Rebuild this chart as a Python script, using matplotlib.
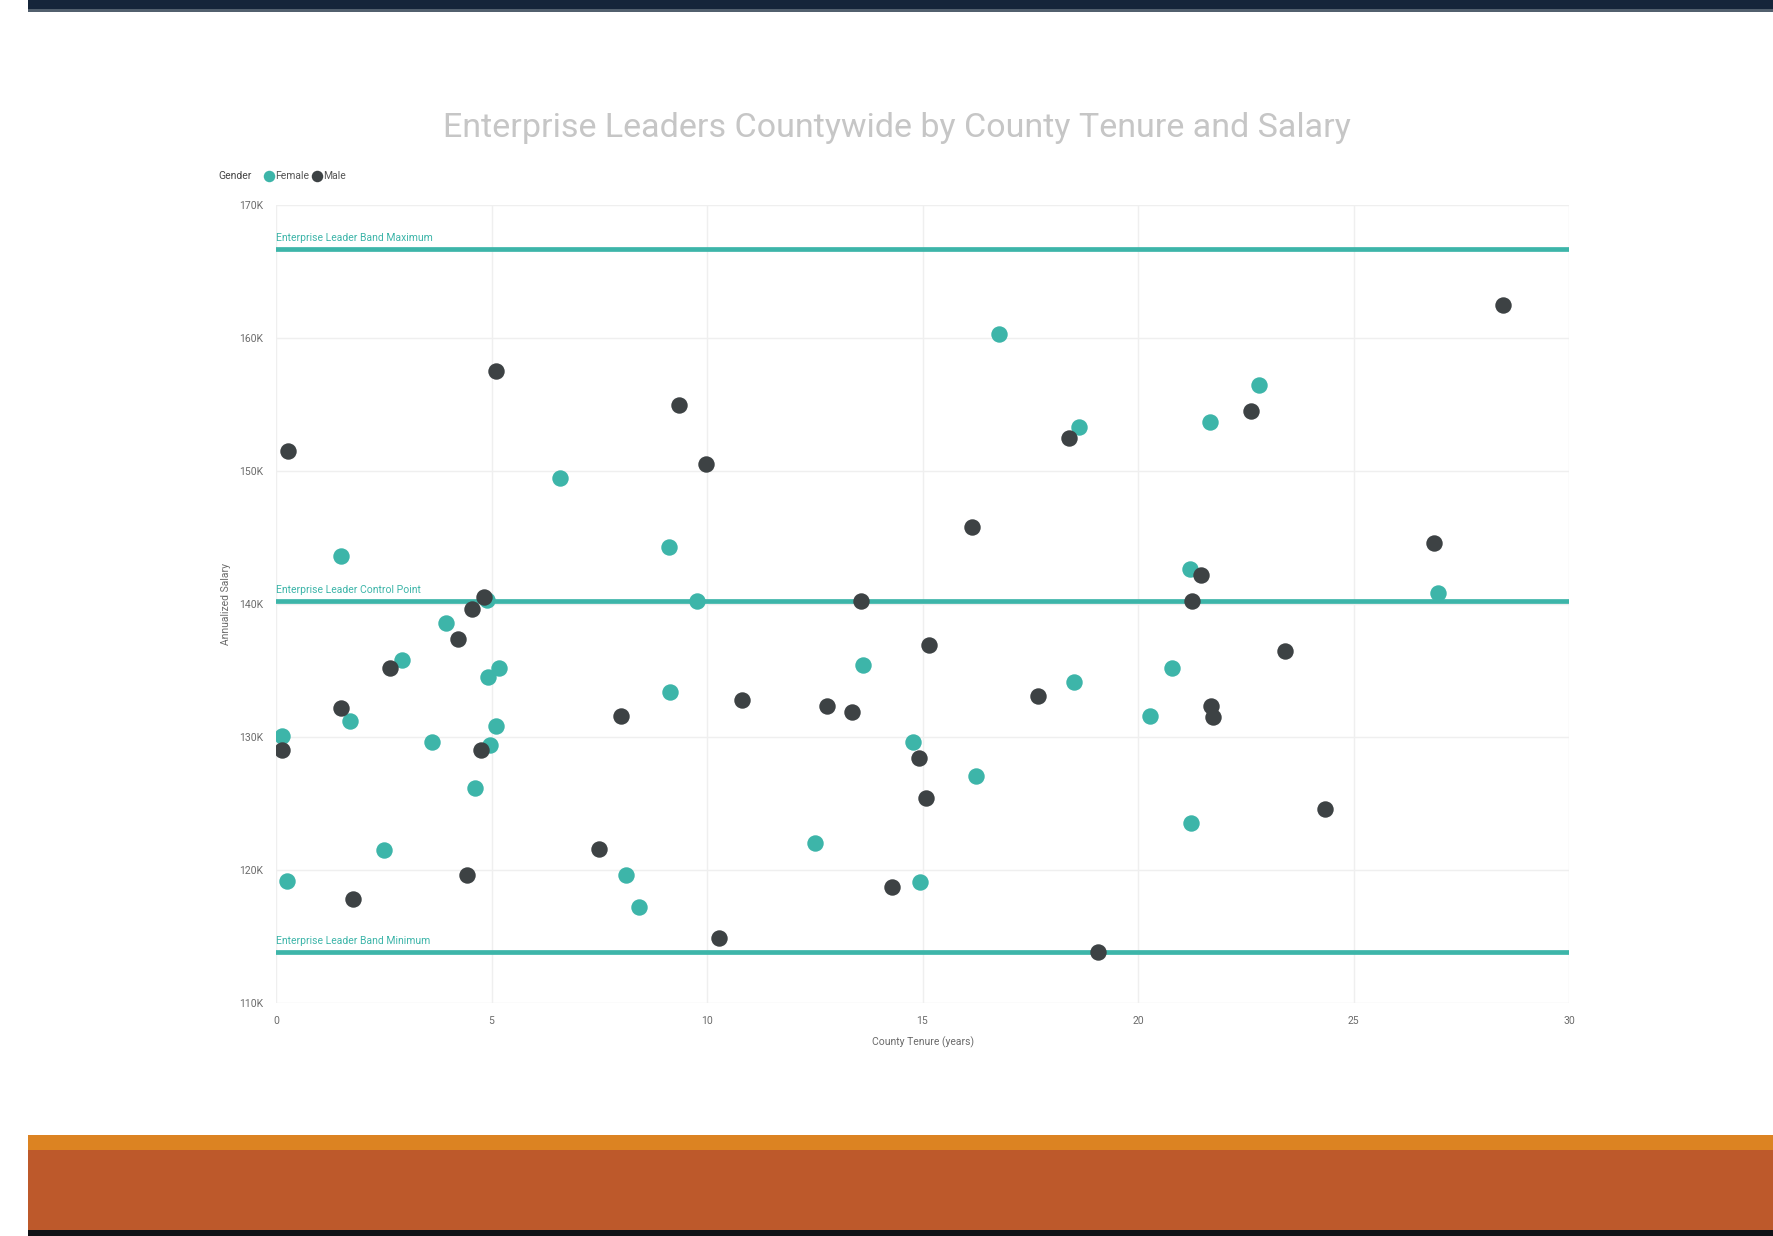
import matplotlib
matplotlib.use("Agg")
import matplotlib.pyplot as plt
from matplotlib.patches import Rectangle

# ---------------- data ----------------
female_tenure = [0.13, 0.26, 1.50, 1.71, 2.50, 2.92, 3.62, 3.94, 4.62, 4.89, 4.91, 5.17,
                 5.10, 4.96, 6.59, 8.12, 8.43, 9.11, 9.14, 9.77, 12.50, 13.61, 14.79,
                 14.95, 16.23, 16.78, 18.52, 18.62, 20.28, 20.78, 21.20, 21.22, 21.67,
                 22.80, 26.95]
female_salary = [130.1, 119.2, 143.6, 131.2, 121.5, 135.8, 129.6, 138.6, 126.2, 140.3,
                 134.5, 135.2, 130.8, 129.4, 149.5, 119.6, 117.2, 144.3, 133.4, 140.2,
                 122.0, 135.4, 129.6, 119.1, 127.1, 160.3, 134.1, 153.3, 131.6, 135.2,
                 142.6, 123.5, 153.7, 156.5, 140.8]

male_tenure = [0.29, 0.13, 1.50, 1.79, 2.65, 4.23, 4.54, 4.83, 4.44, 4.75, 5.10, 7.49,
               8.01, 9.35, 9.98, 10.27, 10.82, 12.79, 13.37, 13.58, 14.29, 14.92, 15.08,
               15.16, 16.15, 17.68, 18.39, 19.07, 21.25, 21.46, 21.70, 21.75, 22.62,
               23.40, 24.35, 26.87, 28.47]
male_salary = [151.5, 129.0, 132.2, 117.8, 135.2, 137.4, 139.6, 140.5, 119.6, 129.0,
               157.5, 121.6, 131.6, 155.0, 150.5, 114.9, 132.8, 132.3, 131.9, 140.2,
               118.7, 128.45, 125.4, 136.9, 145.8, 133.1, 152.5, 113.8, 140.2, 142.2,
               132.3, 131.5, 154.5, 136.5, 124.6, 144.6, 162.5]

ref_labels = ["Enterprise Leader Band Maximum", "Enterprise Leader Control Point",
              "Enterprise Leader Band Minimum"]
ref_values = [166.7, 140.2, 113.8]

x_ticks = [0, 5, 10, 15, 20, 25, 30]
y_ticks = [110, 120, 130, 140, 150, 160, 170]
y_tick_labels = ["110K", "120K", "130K", "140K", "150K", "160K", "170K"]

title = "Enterprise Leaders Countywide by County Tenure and Salary"

TEAL = "#3db5a9"
DARK = "#3d4244"

# ---------------- figure ----------------
W, H = 1773, 1236
fig = plt.figure(figsize=(W / 100, H / 100), dpi=100)
fig.patch.set_facecolor("white")

def px_rect(x0, y0, x1, y1, color, z=0):
    fig.patches.append(Rectangle((x0 / W, 1 - y1 / H), (x1 - x0) / W, (y1 - y0) / H,
                                 transform=fig.transFigure, color=color, zorder=z, lw=0))

# top dark band
px_rect(28, 0, W, 9, "#15253a")
px_rect(28, 9, W, 12, "#52606e")
# bottom orange band
px_rect(28, 1135, W, 1150, "#dc8322")
px_rect(28, 1150, W, 1230, "#bd592b")
px_rect(28, 1230, W, H, "#101216")

left, right = 276 / W, 1569 / W
bottom, top = 1 - 1003 / H, 1 - 205 / H
ax = fig.add_axes([left, bottom, right - left, top - bottom])
ax.set_facecolor("white")

for xv in x_ticks:
    ax.axvline(xv, color="#efefef", lw=1, zorder=0)
for yv in y_ticks:
    ax.axhline(yv, color="#efefef", lw=1, zorder=0)

for lab, val in zip(ref_labels, ref_values):
    ax.axhline(val, color=TEAL, lw=3.4, zorder=2)
    ax.text(0.0, val + 0.45, lab, color=TEAL, fontsize=7.5, ha="left", va="bottom",
            family="Roboto", zorder=3)

sf = ax.scatter(female_tenure, female_salary, s=140, color=TEAL, zorder=4, lw=0,
                label="Female")
sm = ax.scatter(male_tenure, male_salary, s=140, color=DARK, zorder=4, lw=0,
                label="Male")

ax.set_xlim(0, 30)
ax.set_ylim(110, 170)
ax.set_xticks(x_ticks)
ax.set_xticklabels([str(v) for v in x_ticks], fontsize=7.5, color="#6b6b6b", family="Roboto")
ax.set_yticks(y_ticks)
ax.set_yticklabels(y_tick_labels, fontsize=7.5, color="#6b6b6b", family="Roboto")
ax.tick_params(length=0, pad=9)
for s in ax.spines.values():
    s.set_visible(False)

ax.set_xlabel("County Tenure (years)", fontsize=7.5, color="#6b6b6b", family="Roboto",
              labelpad=8)
ax.set_ylabel("Annualized Salary", fontsize=7.5, color="#6b6b6b", family="Roboto",
              labelpad=6)

fig.text(897 / W, 1 - 128 / H, title, ha="center", va="center", fontsize=24.5,
         color="#c6c6c6", family="Roboto")

fig.text(218 / W, 1 - 176 / H, "Gender", ha="left", va="center", fontsize=7.5,
         color="#444444", family="Roboto")
leg = fig.legend(handles=[sf, sm], loc="center left", bbox_to_anchor=(259 / W, 1 - 176 / H),
                 ncol=2, frameon=False, handletextpad=0.05,
                 columnspacing=0.3, handlelength=1.0, markerscale=0.7, borderpad=0,
                 prop={"family": "Roboto", "size": 7.5})
for t in leg.get_texts():
    t.set_color("#555555")

fig.savefig("out.png", dpi=100, facecolor="white")
